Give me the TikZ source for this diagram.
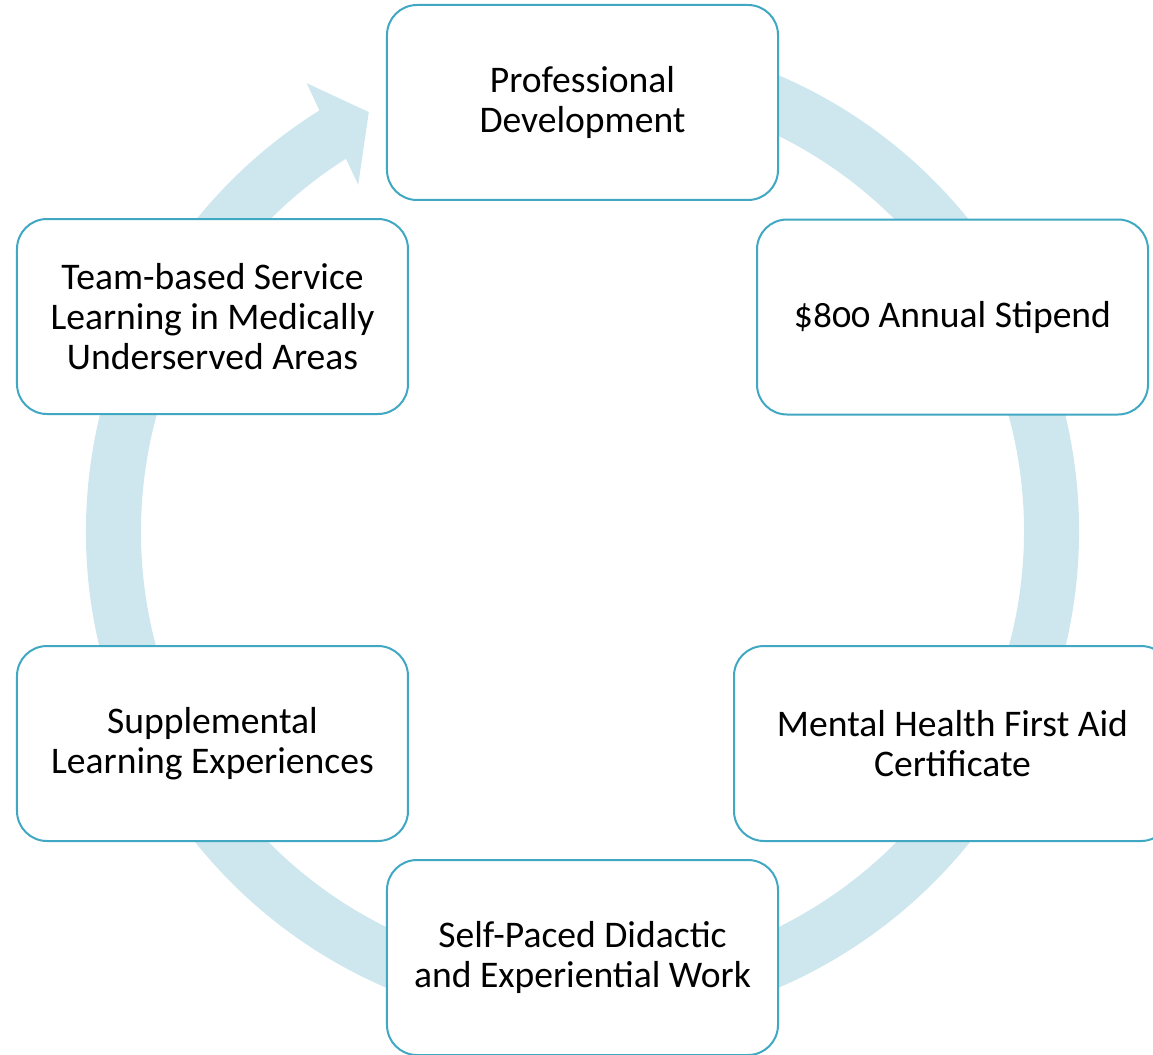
\documentclass[tikz,border=0pt]{standalone}
\usepackage{fontspec}
\setmainfont[Numbers=OldStyle]{Carlito}
\usepackage{tikz}
\definecolor{ringblue}{RGB}{206,231,238}
\definecolor{boxline}{RGB}{64,168,194}
\tikzset{x=0.75pt,y=0.75pt}
\tikzset{cyclebox/.style={draw=boxline,line width=1.5pt,fill=white,rounded corners=22.5pt,
    minimum width=293.25pt,minimum height=146.25pt,align=center,
    font=\fontsize{28.2}{30}\selectfont}}

\begin{document}
\begin{tikzpicture}
    \useasboundingbox (-582.5,-522.5) rectangle (570.5,531.5);
    \fill[ringblue] (80:496.5) arc[start angle=80,end angle=-238,radius=496.5]
        -- (-238.4:526.4) -- (-243:470.7) -- (-237.1:412.9) -- (-237.6:441.5)
        arc[start angle=-237.6,end angle=80,radius=441.5] -- cycle;
    \node[cyclebox] (pd) at (0,429)      {Professional\\Development};
    \node[cyclebox] (st) at (370,214.5)  {\$800 Annual Stipend};
    \node[cyclebox,minimum width=327.75pt] (mh) at (370,-212) {Mental Health First Aid\\Certificate};
    \node[cyclebox] (sp) at (0,-426)     {Self-Paced Didactic\\and Experiential Work};
    \node[cyclebox] (sl) at (-370,-212)  {Supplemental\\Learning Experiences};
    \node[cyclebox] (tb) at (-370,215)   {Team-based Service\\Learning in Medically\\Underserved Areas};
\end{tikzpicture}
\end{document}
